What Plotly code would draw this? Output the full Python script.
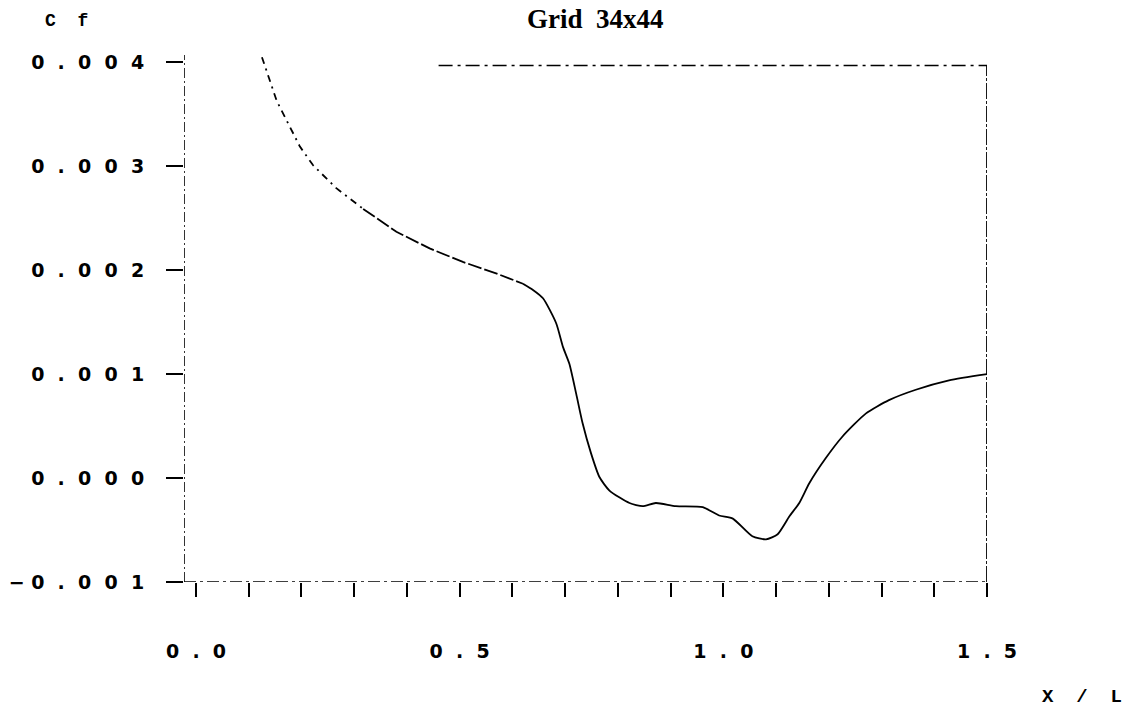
import plotly.graph_objects as go

# ---- data ----
x_over_L = [0.125, 0.153, 0.172, 0.197, 0.222, 0.266, 0.317, 0.380, 0.443, 0.506,
            0.569, 0.620, 0.639, 0.658, 0.683, 0.696, 0.708, 0.721, 0.733, 0.749,
            0.765, 0.784, 0.822, 0.847, 0.872, 0.910, 0.961, 0.992, 1.018, 1.055,
            1.081, 1.103, 1.125, 1.144, 1.163, 1.194, 1.226, 1.270, 1.314, 1.365,
            1.428, 1.500]
cf = [0.00405, 0.00363, 0.00344, 0.00319, 0.00301, 0.00279, 0.00259, 0.00237, 0.00221, 0.00208,
      0.00197, 0.00187, 0.00181, 0.00173, 0.00149, 0.00126, 0.00110, 0.00081, 0.00053, 0.00024,
      0.00001, -0.00012, -0.00024, -0.00027, -0.00024, -0.00027, -0.00028, -0.00036, -0.00039, -0.00056,
      -0.00059, -0.00054, -0.00037, -0.00024, -0.00005, 0.00019, 0.00040, 0.00062, 0.00075, 0.00085,
      0.00094, 0.00100]

y_tick_vals = [-0.001, 0.000, 0.001, 0.002, 0.003, 0.004]
y_tick_text = ["−0.001", "0.000", "0.001", "0.002", "0.003", "0.004"]
x_tick_vals = [0.0, 0.5, 1.0, 1.5]
x_tick_text = ["0.0", "0.5", "1.0", "1.5"]

title_text = "Grid  34x44"
y_title = "Cf"
x_title = "X / L"

# ---- helpers ----
NB = "\u00a0"
def spaced(s):
    return (NB * 2).join(list(s.replace(" ", "")))

W, H = 1132, 707
L, R, T, B = 184, 987, 52, 582
X_RANGE = [-0.0228, 1.5]
Y_RANGE = [-0.001, 0.0041]

def paper_x(p):
    return (p - L) / (R - L)
def paper_y(p):
    return (B - p) / (B - T)

seg1 = 7   # dash-dot part
seg2 = 12  # long dash part
fig = go.Figure()
fig.add_trace(go.Scatter(x=x_over_L[:seg1], y=cf[:seg1], mode="lines",
                         line=dict(color="black", width=1.8, dash="7px,5px,2px,5px"),
                         showlegend=False, hoverinfo="skip"))
fig.add_trace(go.Scatter(x=x_over_L[seg1 - 1:seg2], y=cf[seg1 - 1:seg2], mode="lines",
                         line=dict(color="black", width=1.8, dash="14px,3px"),
                         showlegend=False, hoverinfo="skip"))
fig.add_trace(go.Scatter(x=x_over_L[seg2 - 1:], y=cf[seg2 - 1:], mode="lines",
                         line=dict(color="black", width=1.8, shape="spline", smoothing=0.6),
                         showlegend=False, hoverinfo="skip"))

tick_font = dict(family="DejaVu Sans", size=19, color="black", weight="bold")

fig.update_layout(
    width=W, height=H,
    margin=dict(l=L, r=W - R, t=T, b=H - B, autoexpand=False),
    paper_bgcolor="white", plot_bgcolor="white",
    showlegend=False,
    xaxis=dict(range=X_RANGE, showgrid=False, zeroline=False, showline=False,
               automargin=False,
               tickvals=x_tick_vals, ticktext=[spaced(t) for t in x_tick_text],
               ticks="outside", ticklen=14, tickwidth=1.6, tickcolor="black",
               minor=dict(dtick=0.1, tick0=0, ticks="outside", ticklen=14,
                          tickwidth=1.6, tickcolor="black", showgrid=False),
               tickfont=tick_font, ticklabelstandoff=38),
    yaxis=dict(range=Y_RANGE, showgrid=False, zeroline=False, showline=False,
               automargin=False,
               tickvals=y_tick_vals,
               ticktext=[t[0] + NB + spaced(t[1:]) if t.startswith("−") else spaced(t)
                         for t in y_tick_text],
               ticks="outside", ticklen=17, tickwidth=1.6, tickcolor="black",
               tickfont=tick_font, ticklabelstandoff=18),
)

# frame lines (scanned plot border)
top_y = 0.00397
fig.add_shape(type="line", xref="x", yref="y", x0=X_RANGE[0], x1=X_RANGE[0],
              y0=Y_RANGE[0], y1=0.00407, line=dict(color="black", width=1.6, dash="10px,3px,2px,3px"))
fig.add_shape(type="line", xref="x", yref="y", x0=X_RANGE[0], x1=1.5,
              y0=Y_RANGE[0], y1=Y_RANGE[0], line=dict(color="black", width=1.6, dash="12px,4px,3px,4px"))
fig.add_shape(type="line", xref="x", yref="y", x0=1.5, x1=1.5,
              y0=Y_RANGE[0], y1=top_y, line=dict(color="black", width=1.8, dash="16px,2px,3px,2px"))
fig.add_shape(type="line", xref="x", yref="y", x0=0.46, x1=1.5,
              y0=top_y, y1=top_y, line=dict(color="black", width=1.4, dash="14px,5px,3px,5px"))

# texts
fig.add_annotation(text=title_text.replace(" ", NB), xref="paper", yref="paper",
                   x=paper_x(595), y=paper_y(19),
                   showarrow=False, xanchor="center", yanchor="middle",
                   font=dict(family="Liberation Serif", size=27, color="black", weight="bold"))
fig.add_annotation(text=spaced(y_title), xref="paper", yref="paper",
                   x=paper_x(43), y=paper_y(21),
                   showarrow=False, xanchor="left", yanchor="middle",
                   font=dict(family="Liberation Mono", size=18, color="black", weight="bold"))
fig.add_annotation(text=x_title.replace(" ", NB * 2), xref="paper", yref="paper",
                   x=paper_x(1124), y=paper_y(697),
                   showarrow=False, xanchor="right", yanchor="middle",
                   font=dict(family="Liberation Mono", size=19, color="black", weight="bold"))

fig.write_html("out.html", config={"displayModeBar": False},
               post_script="document.body.style.margin='0';")
